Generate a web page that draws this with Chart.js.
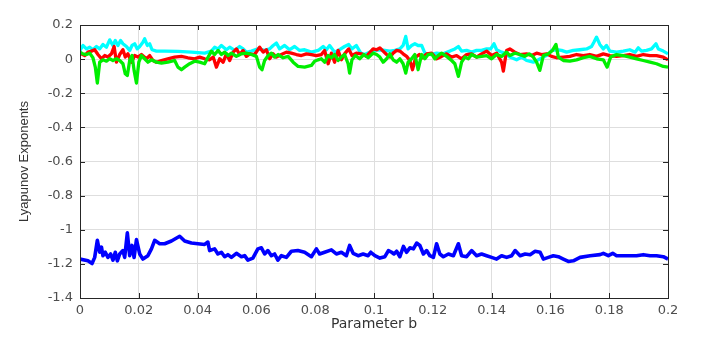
<!DOCTYPE html>
<html>
<head>
<meta charset="utf-8">
<script src="https://cdn.jsdelivr.net/npm/chart.js@4"></script>
<style>
  body { margin: 0; background: #fff; }
  #wrap { width: 705px; height: 343px; }
</style>
</head>
<body>
<div id="wrap"><canvas id="chart"></canvas></div>
<script>
// tick values
const xTicks = [0, 0.02, 0.04, 0.06, 0.08, 0.1, 0.12, 0.14, 0.16, 0.18, 0.2];
const yTicks = [-1.4, -1.2, -1, -0.8, -0.6, -0.4, -0.2, 0, 0.2];

// cyan exponent
const cyanX = [0, 0.0010, 0.0022, 0.0033, 0.0044, 0.0056, 0.0067, 0.0078, 0.0090, 0.0101, 0.0112, 0.0120, 0.0129, 0.0138, 0.0146, 0.0158, 0.0169, 0.0177, 0.0186, 0.0195, 0.0203, 0.0214, 0.0220, 0.0229, 0.0237, 0.0245, 0.0260, 0.0288, 0.0333, 0.0379, 0.0424, 0.0447, 0.0458, 0.0470, 0.0481, 0.0498, 0.0509, 0.0526, 0.0543, 0.0555, 0.0566, 0.0583, 0.0605, 0.0628, 0.0645, 0.0657, 0.0668, 0.0679, 0.0696, 0.0713, 0.0730, 0.0747, 0.0764, 0.0787, 0.0810, 0.0827, 0.0838, 0.0849, 0.0866, 0.0883, 0.0900, 0.0914, 0.0925, 0.0940, 0.0955, 0.0968, 0.0985,
  0.1003, 0.1020, 0.1037, 0.1054, 0.1071, 0.1088, 0.1099, 0.1108, 0.1116, 0.1128, 0.1139, 0.1150, 0.1162, 0.1173, 0.1190, 0.1213, 0.1235, 0.1258, 0.1275, 0.1287, 0.1298, 0.1315, 0.1332, 0.1349, 0.1366, 0.1383, 0.1397, 0.1408, 0.1417, 0.1434, 0.1451, 0.1462, 0.1485, 0.1502, 0.1519, 0.1542, 0.1559, 0.1576, 0.1593, 0.1604, 0.1621, 0.1638, 0.1655, 0.1678, 0.1700, 0.1723, 0.1740, 0.1748, 0.1757, 0.1768, 0.1780, 0.1791, 0.1802, 0.1825, 0.1848, 0.1870, 0.1888, 0.1899, 0.1910, 0.1927, 0.1944, 0.1959, 0.1967, 0.1984, 0.2];
const cyanY = [0.051, 0.080, 0.060, 0.070, 0.055, 0.074, 0.060, 0.086, 0.070, 0.113, 0.080, 0.109, 0.080, 0.109, 0.090, 0.074, 0.051, 0.080, 0.090, 0.060, 0.074, 0.099, 0.119, 0.080, 0.090, 0.055, 0.047, 0.047, 0.045, 0.041, 0.035, 0.047, 0.070, 0.060, 0.080, 0.055, 0.070, 0.051, 0.074, 0.060, 0.041, 0.047, 0.060, 0.051, 0.060, 0.080, 0.094, 0.060, 0.080, 0.055, 0.074, 0.051, 0.055, 0.041, 0.051, 0.074, 0.055, 0.080, 0.041, 0.055, 0.074, 0.086, 0.060, 0.080, 0.035, 0.027, 0.041,
  0.051, 0.055, 0.051, 0.047, 0.051, 0.060, 0.080, 0.133, 0.060, 0.080, 0.090, 0.080, 0.080, 0.035, 0.027, 0.035, 0.031, 0.047, 0.060, 0.074, 0.047, 0.051, 0.041, 0.051, 0.051, 0.060, 0.060, 0.090, 0.055, 0.041, 0.031, 0.012, -0.004, 0.012, -0.008, -0.018, -0.004, 0.012, 0.027, 0.051, 0.055, 0.051, 0.041, 0.051, 0.055, 0.060, 0.074, 0.099, 0.129, 0.086, 0.060, 0.080, 0.047, 0.041, 0.047, 0.055, 0.041, 0.066, 0.047, 0.051, 0.060, 0.090, 0.060, 0.047, 0.031];

// red exponent
const redX = [0, 0.0016, 0.0027, 0.0039, 0.0050, 0.0061, 0.0073, 0.0084, 0.0095, 0.0107, 0.0116, 0.0124, 0.0135, 0.0146, 0.0154, 0.0163, 0.0175, 0.0186, 0.0197, 0.0209, 0.0226, 0.0237, 0.0248, 0.0260, 0.0277, 0.0299, 0.0322, 0.0345, 0.0367, 0.0390, 0.0407, 0.0424, 0.0441, 0.0453, 0.0464, 0.0475, 0.0487, 0.0498, 0.0509, 0.0521, 0.0532, 0.0543, 0.0555, 0.0566, 0.0577, 0.0594, 0.0611, 0.0623, 0.0634, 0.0645, 0.0657, 0.0668, 0.0685, 0.0702, 0.0719, 0.0736, 0.0753, 0.0770, 0.0787, 0.0804, 0.0821, 0.0832, 0.0844, 0.0855, 0.0866, 0.0878, 0.0889, 0.0900, 0.0914, 0.0925, 0.0940, 0.0957, 0.0974,
  0.0997, 0.1009, 0.1020, 0.1031, 0.1043, 0.1054, 0.1065, 0.1077, 0.1088, 0.1099, 0.1111, 0.1122, 0.1131, 0.1142, 0.1154, 0.1165, 0.1179, 0.1196, 0.1213, 0.1230, 0.1247, 0.1264, 0.1281, 0.1298, 0.1315, 0.1332, 0.1349, 0.1366, 0.1383, 0.1400, 0.1417, 0.1434, 0.1440, 0.1451, 0.1462, 0.1479, 0.1496, 0.1519, 0.1536, 0.1553, 0.1570, 0.1587, 0.1604, 0.1621, 0.1644, 0.1666, 0.1689, 0.1712, 0.1734, 0.1757, 0.1780, 0.1802, 0.1825, 0.1848, 0.1870, 0.1893, 0.1916, 0.1939, 0.1961, 0.1984, 0.2];
const redY = [0.035, 0.021, 0.041, 0.047, 0.055, 0.027, 0.002, 0.021, 0.012, 0.031, 0.074, -0.018, 0.027, 0.055, 0.012, 0.031, -0.018, 0.021, 0.012, 0.027, 0.002, 0.021, -0.008, -0.018, -0.008, 0.002, 0.012, 0.016, 0.008, 0.002, 0.012, 0.002, -0.004, 0.012, -0.047, 0.002, -0.018, 0.031, -0.008, 0.041, 0.060, 0.027, 0.051, 0.016, 0.031, 0.027, 0.070, 0.041, 0.055, 0.002, 0.031, 0.012, 0.027, 0.041, 0.035, 0.027, 0.021, 0.031, 0.027, 0.021, 0.027, 0.051, -0.027, 0.035, -0.018, 0.051, -0.004, 0.031, 0.060, 0.021, 0.035, 0.031, 0.016,
  0.060, 0.055, 0.066, 0.047, 0.027, 0.012, 0.035, 0.051, 0.047, 0.031, 0.016, -0.008, -0.062, 0.012, 0.027, 0.008, 0.031, 0.035, 0.002, 0.016, 0.031, 0.012, 0.021, 0.002, 0.027, 0.031, 0.012, 0.031, 0.047, 0.021, 0.035, -0.018, -0.070, 0.051, 0.060, 0.041, 0.027, 0.031, 0.021, 0.035, 0.027, 0.031, 0.016, 0.008, 0.012, 0.016, 0.027, 0.021, 0.027, 0.016, 0.031, 0.021, 0.016, 0.021, 0.027, 0.016, 0.027, 0.021, 0.021, 0.012, -0.004];

// green exponent
const greenX = [0, 0.0010, 0.0022, 0.0033, 0.0044, 0.0052, 0.0059, 0.0067, 0.0078, 0.0090, 0.0101, 0.0112, 0.0124, 0.0135, 0.0146, 0.0154, 0.0161, 0.0169, 0.0177, 0.0184, 0.0192, 0.0200, 0.0209, 0.0220, 0.0231, 0.0243, 0.0260, 0.0277, 0.0299, 0.0322, 0.0333, 0.0345, 0.0356, 0.0373, 0.0390, 0.0407, 0.0424, 0.0436, 0.0447, 0.0458, 0.0470, 0.0481, 0.0492, 0.0504, 0.0515, 0.0532, 0.0549, 0.0566, 0.0583, 0.0600, 0.0611, 0.0619, 0.0628, 0.0640, 0.0651, 0.0662, 0.0674, 0.0691, 0.0708, 0.0725, 0.0742, 0.0764, 0.0787, 0.0798, 0.0810, 0.0821, 0.0832, 0.0844, 0.0855, 0.0866, 0.0878, 0.0889, 0.0900, 0.0912, 0.0917, 0.0925, 0.0937, 0.0951, 0.0966, 0.0980,
  0.0997, 0.1009, 0.1020, 0.1031, 0.1043, 0.1054, 0.1065, 0.1077, 0.1088, 0.1099, 0.1108, 0.1116, 0.1128, 0.1139, 0.1150, 0.1162, 0.1173, 0.1184, 0.1196, 0.1207, 0.1218, 0.1230, 0.1247, 0.1264, 0.1275, 0.1287, 0.1298, 0.1309, 0.1321, 0.1332, 0.1349, 0.1366, 0.1383, 0.1400, 0.1417, 0.1434, 0.1451, 0.1462, 0.1479, 0.1496, 0.1513, 0.1528, 0.1542, 0.1553, 0.1564, 0.1576, 0.1593, 0.1607, 0.1619, 0.1627, 0.1644, 0.1666, 0.1689, 0.1712, 0.1734, 0.1757, 0.1780, 0.1793, 0.1805, 0.1825, 0.1848, 0.1870, 0.1893, 0.1916, 0.1939, 0.1961, 0.1984, 0.2];
const greenY = [0.041, 0.031, 0.027, 0.035, 0.008, -0.047, -0.140, -0.018, -0.004, -0.012, 0.002, -0.008, 0.002, -0.008, -0.027, -0.086, -0.096, -0.008, 0.021, -0.066, -0.140, -0.018, 0.021, 0.002, -0.018, -0.004, -0.018, -0.023, -0.018, -0.008, -0.047, -0.062, -0.047, -0.027, -0.012, -0.018, -0.027, 0.012, 0.047, 0.027, 0.051, 0.027, 0.041, 0.021, 0.035, 0.016, 0.031, 0.035, 0.027, 0.016, -0.047, -0.062, -0.008, 0.021, 0.035, 0.012, 0.027, 0.008, 0.016, -0.018, -0.043, -0.047, -0.037, -0.012, -0.004, 0.002, -0.018, 0.021, 0.008, 0.027, -0.008, 0.012, 0.027, -0.027, -0.082, -0.004, 0.021, 0.002, 0.027, 0.008,
  0.035, 0.027, 0.012, -0.018, 0.002, 0.031, -0.004, -0.018, 0.002, -0.027, -0.082, -0.018, 0.002, 0.027, -0.062, 0.027, 0.002, 0.027, 0.031, 0.002, 0.021, 0.035, 0.016, -0.008, -0.027, -0.101, -0.018, 0.012, 0.002, 0.027, 0.012, 0.016, 0.021, 0.002, 0.027, 0.016, 0.041, 0.021, 0.035, 0.027, 0.016, 0.031, 0.012, -0.018, -0.066, 0.021, 0.031, 0.051, 0.086, 0.012, -0.008, -0.012, -0.004, 0.008, 0.016, 0.002, -0.004, -0.047, 0.012, 0.027, 0.021, 0.012, 0.002, -0.008, -0.018, -0.027, -0.043, -0.047];

// blue exponent
const blueX = [0, 0.0027, 0.0041, 0.0050, 0.0059, 0.0067, 0.0073, 0.0078, 0.0086, 0.0095, 0.0104, 0.0112, 0.0120, 0.0127, 0.0135, 0.0146, 0.0152, 0.0161, 0.0169, 0.0177, 0.0184, 0.0192, 0.0203, 0.0214, 0.0231, 0.0243, 0.0254, 0.0271, 0.0288, 0.0311, 0.0339, 0.0356, 0.0379, 0.0401, 0.0424, 0.0435, 0.0441, 0.0458, 0.0469, 0.0481, 0.0492, 0.0503, 0.0515, 0.0532, 0.0549, 0.0560, 0.0571, 0.0588, 0.0605, 0.0617, 0.0628, 0.0639, 0.0651, 0.0662, 0.0673, 0.0685, 0.0702, 0.0719, 0.0741, 0.0764, 0.0787, 0.0804, 0.0815, 0.0832, 0.0855, 0.0872, 0.0889, 0.0906, 0.0917, 0.0929, 0.0946, 0.0963, 0.0980, 0.0989,
  0.1003, 0.1020, 0.1037, 0.1049, 0.1060, 0.1068, 0.1077, 0.1088, 0.1100, 0.1111, 0.1122, 0.1134, 0.1145, 0.1156, 0.1168, 0.1179, 0.1190, 0.1202, 0.1213, 0.1224, 0.1236, 0.1253, 0.1270, 0.1287, 0.1298, 0.1315, 0.1332, 0.1349, 0.1366, 0.1383, 0.1400, 0.1417, 0.1434, 0.1451, 0.1468, 0.1480, 0.1497, 0.1514, 0.1531, 0.1548, 0.1565, 0.1576, 0.1593, 0.1610, 0.1627, 0.1644, 0.1661, 0.1678, 0.1701, 0.1735, 0.1769, 0.1780, 0.1797, 0.1812, 0.1825, 0.1859, 0.1893, 0.1916, 0.1939, 0.1961, 0.1984, 0.2];
const blueY = [-1.172, -1.182, -1.198, -1.162, -1.062, -1.132, -1.102, -1.152, -1.132, -1.162, -1.142, -1.178, -1.132, -1.182, -1.142, -1.122, -1.162, -1.018, -1.152, -1.092, -1.162, -1.058, -1.142, -1.172, -1.152, -1.112, -1.062, -1.082, -1.082, -1.066, -1.038, -1.066, -1.078, -1.082, -1.086, -1.072, -1.122, -1.112, -1.142, -1.132, -1.158, -1.146, -1.162, -1.138, -1.158, -1.152, -1.178, -1.166, -1.112, -1.106, -1.142, -1.122, -1.152, -1.142, -1.178, -1.152, -1.162, -1.126, -1.122, -1.132, -1.158, -1.112, -1.142, -1.132, -1.118, -1.142, -1.132, -1.152, -1.092, -1.138, -1.152, -1.142, -1.152, -1.132,
  -1.152, -1.166, -1.158, -1.122, -1.132, -1.142, -1.126, -1.158, -1.098, -1.132, -1.106, -1.112, -1.078, -1.092, -1.142, -1.122, -1.152, -1.162, -1.082, -1.142, -1.158, -1.142, -1.152, -1.082, -1.152, -1.158, -1.122, -1.152, -1.142, -1.152, -1.162, -1.172, -1.152, -1.162, -1.152, -1.122, -1.152, -1.142, -1.146, -1.126, -1.132, -1.172, -1.162, -1.152, -1.158, -1.172, -1.186, -1.182, -1.162, -1.152, -1.146, -1.138, -1.152, -1.138, -1.152, -1.152, -1.152, -1.146, -1.152, -1.152, -1.158, -1.172];

const toPoints = (xs, ys) => xs.map((x, i) => ({ x: x, y: ys[i] }));

const axisColor = "#262626";
const tickColor = "#4d4d4d";

// MATLAB style box with inward ticks
const boxPlugin = {
  id: "box",
  afterDraw(chart) {
    const { ctx, chartArea: a, scales } = chart;
    ctx.save();
    ctx.strokeStyle = axisColor;
    ctx.lineWidth = 1;
    ctx.strokeRect(a.left + 0.5, a.top + 0.5, a.right - a.left, a.bottom - a.top);
    ctx.beginPath();
    xTicks.forEach(v => {
      const px = Math.round(scales.x.getPixelForValue(v)) + 0.5;
      ctx.moveTo(px, a.bottom); ctx.lineTo(px, a.bottom - 5);
      ctx.moveTo(px, a.top); ctx.lineTo(px, a.top + 5);
    });
    yTicks.forEach(v => {
      const py = Math.round(scales.y.getPixelForValue(v)) + 0.5;
      ctx.moveTo(a.left, py); ctx.lineTo(a.left + 5, py);
      ctx.moveTo(a.right, py); ctx.lineTo(a.right - 5, py);
    });
    ctx.stroke();
    ctx.restore();
  }
};

new Chart(document.getElementById("chart"), {
  type: "scatter",
  data: {
    datasets: [
      { label: "LE2", data: toPoints(greenX, greenY), borderColor: "#00ee00" },
      { label: "LE1", data: toPoints(redX, redY), borderColor: "#ff0000" },
      { label: "LE0", data: toPoints(cyanX, cyanY), borderColor: "#00ffff" },
      { label: "LE3", data: toPoints(blueX, blueY), borderColor: "#0000ff", borderWidth: 3.6 }
    ]
  },
  options: {
    responsive: true,
    maintainAspectRatio: false,
    animation: false,
    showLine: true,
    layout: { padding: { top: 25, right: 37, left: 0, bottom: 0 } },
    elements: {
      point: { radius: 0 },
      line: { borderWidth: 3.3, tension: 0, borderJoinStyle: "round" }
    },
    plugins: { legend: { display: false }, tooltip: { enabled: false } },
    scales: {
      x: {
        type: "linear",
        min: 0,
        max: 0.2,
        afterFit: s => { s.height = 45; },
        afterBuildTicks: s => { s.ticks = xTicks.map(v => ({ value: v })); },
        grid: { color: "#dedede", drawTicks: false },
        border: { display: false },
        ticks: {
          padding: 5,
          color: tickColor,
          font: { family: "DejaVu Sans", size: 13 },
          maxRotation: 0,
          callback: v => String(+v.toFixed(2))
        },
        title: {
          display: true,
          text: "Parameter b",
          color: "#333",
          font: { family: "DejaVu Sans", size: 14 },
          padding: { top: 0, bottom: 10 }
        }
      },
      y: {
        type: "linear",
        min: -1.4,
        max: 0.2,
        afterFit: s => { s.width = 80; },
        afterBuildTicks: s => { s.ticks = yTicks.map(v => ({ value: v })); },
        grid: { color: "#dedede", drawTicks: false },
        border: { display: false },
        ticks: {
          padding: 7,
          color: tickColor,
          font: { family: "DejaVu Sans", size: 13 },
          callback: v => String(+v.toFixed(2))
        },
        title: {
          display: true,
          text: "Lyapunov Exponents",
          color: "#333",
          font: { family: "Liberation Sans", size: 13 },
          padding: { top: 17, bottom: 0 }
        }
      }
    }
  },
  plugins: [boxPlugin]
});
</script>
</body>
</html>
